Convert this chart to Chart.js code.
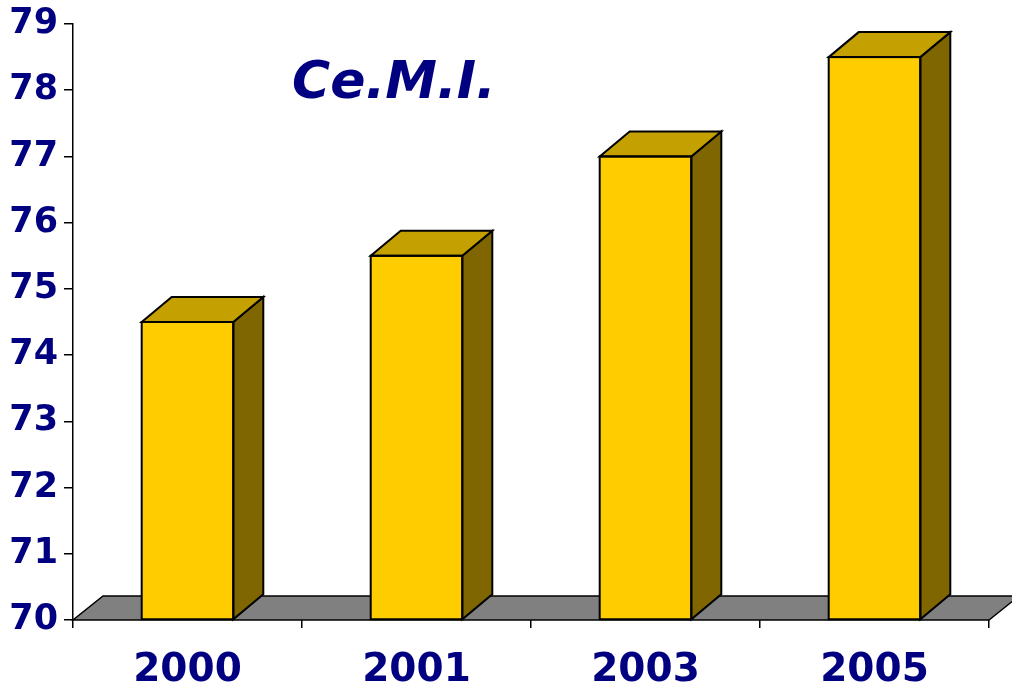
<!DOCTYPE html>
<html>
<head>
<meta charset="utf-8">
<script src="https://cdn.jsdelivr.net/npm/chart.js@4/dist/chart.umd.min.js"></script>
<style>
  html, body { margin: 0; padding: 0; background: #ffffff; }
  #wrap { width: 1012px; height: 687px; position: relative; }
</style>
</head>
<body>
<div id="wrap"><canvas id="c" width="1012" height="687"></canvas></div>
<script>
// ---- data ----
const categories = ['2000', '2001', '2003', '2005'];
const values = [74.5, 75.5, 77, 78.5];
const yTicks = [70, 71, 72, 73, 74, 75, 76, 77, 78, 79];
const titleText = 'Ce.M.I.';

// ---- style ----
const NAVY = '#000080';
const FRONT = '#FFCC00';
const TOP = '#C4A000';
const SIDE = '#806600';
const FLOOR = '#808080';
const DX = 30, DY = 25;

const threeD = {
  id: 'threeD',
  beforeDatasetsDraw(chart) {
    const ctx = chart.ctx;
    const a = chart.chartArea;
    const yb = chart.scales.y.getPixelForValue(yTicks[0]);
    ctx.save();
    ctx.beginPath();
    ctx.moveTo(a.left, yb);
    ctx.lineTo(a.right, yb);
    ctx.lineTo(a.right + DX, yb - DY + 1);
    ctx.lineTo(a.left + DX, yb - DY + 1);
    ctx.closePath();
    ctx.fillStyle = FLOOR;
    ctx.fill();
    ctx.lineWidth = 1.5;
    ctx.strokeStyle = '#000';
    ctx.stroke();
    ctx.restore();
  },
  afterDatasetsDraw(chart) {
    const ctx = chart.ctx;
    const meta = chart.getDatasetMeta(0);
    const yb = chart.scales.y.getPixelForValue(yTicks[0]);
    ctx.save();
    ctx.lineWidth = 2;
    ctx.strokeStyle = '#000';
    ctx.lineJoin = 'miter';
    meta.data.forEach(bar => {
      const l = bar.x - bar.width / 2, r = bar.x + bar.width / 2;
      const t = bar.y, b = Math.min(bar.base, yb);
      // side
      ctx.beginPath();
      ctx.moveTo(r, t);
      ctx.lineTo(r + DX, t - DY);
      ctx.lineTo(r + DX, b - DY);
      ctx.lineTo(r, b);
      ctx.closePath();
      ctx.fillStyle = SIDE;
      ctx.fill();
      ctx.stroke();
      // top
      ctx.beginPath();
      ctx.moveTo(l, t);
      ctx.lineTo(l + DX, t - DY);
      ctx.lineTo(r + DX, t - DY);
      ctx.lineTo(r, t);
      ctx.closePath();
      ctx.fillStyle = TOP;
      ctx.fill();
      ctx.stroke();
      // front outline
      ctx.strokeRect(l, t, r - l, b - t);
    });
    // title
    ctx.fillStyle = NAVY;
    ctx.font = 'italic bold 52px "DejaVu Sans"';
    ctx.textAlign = 'left';
    ctx.textBaseline = 'alphabetic';
    ctx.fillText(titleText, 292, 98);
    ctx.restore();
  }
};

new Chart(document.getElementById('c'), {
  type: 'bar',
  data: {
    labels: categories,
    datasets: [{
      data: values,
      base: 70,
      backgroundColor: FRONT,
      borderColor: '#000',
      borderWidth: 0,
      barPercentage: 0.4,
      categoryPercentage: 1.0
    }]
  },
  options: {
    responsive: false,
    animation: false,
    devicePixelRatio: 1,
    layout: { padding: { top: 24, right: 23, left: 0, bottom: 0 } },
    plugins: { legend: { display: false }, tooltip: { enabled: false }, title: { display: false } },
    scales: {
      y: {
        min: 70, max: 79,
        afterFit(s) { s.width = 73; s.paddingTop = 0; s.paddingBottom = 0; },
        afterBuildTicks(s) { s.ticks = yTicks.map(v => ({ value: v })); },
        border: { display: true, color: '#000', width: 1.5 },
        grid: { drawOnChartArea: false, drawTicks: true, tickLength: 9, color: '#000', lineWidth: 1.5 },
        ticks: { color: NAVY, font: { family: 'DejaVu Sans', weight: 'bold', size: 35, lineHeight: 1.0 }, padding: 6 }
      },
      x: {
        afterFit(s) { s.height = 67; },
        border: { display: false },
        grid: { drawOnChartArea: false, drawTicks: true, tickLength: 8, color: '#000', lineWidth: 1.5, offset: true },
        ticks: { color: NAVY, font: { family: 'DejaVu Sans', weight: 'bold', size: 39 }, padding: 19 }
      }
    }
  },
  plugins: [threeD]
});
</script>
</body>
</html>
